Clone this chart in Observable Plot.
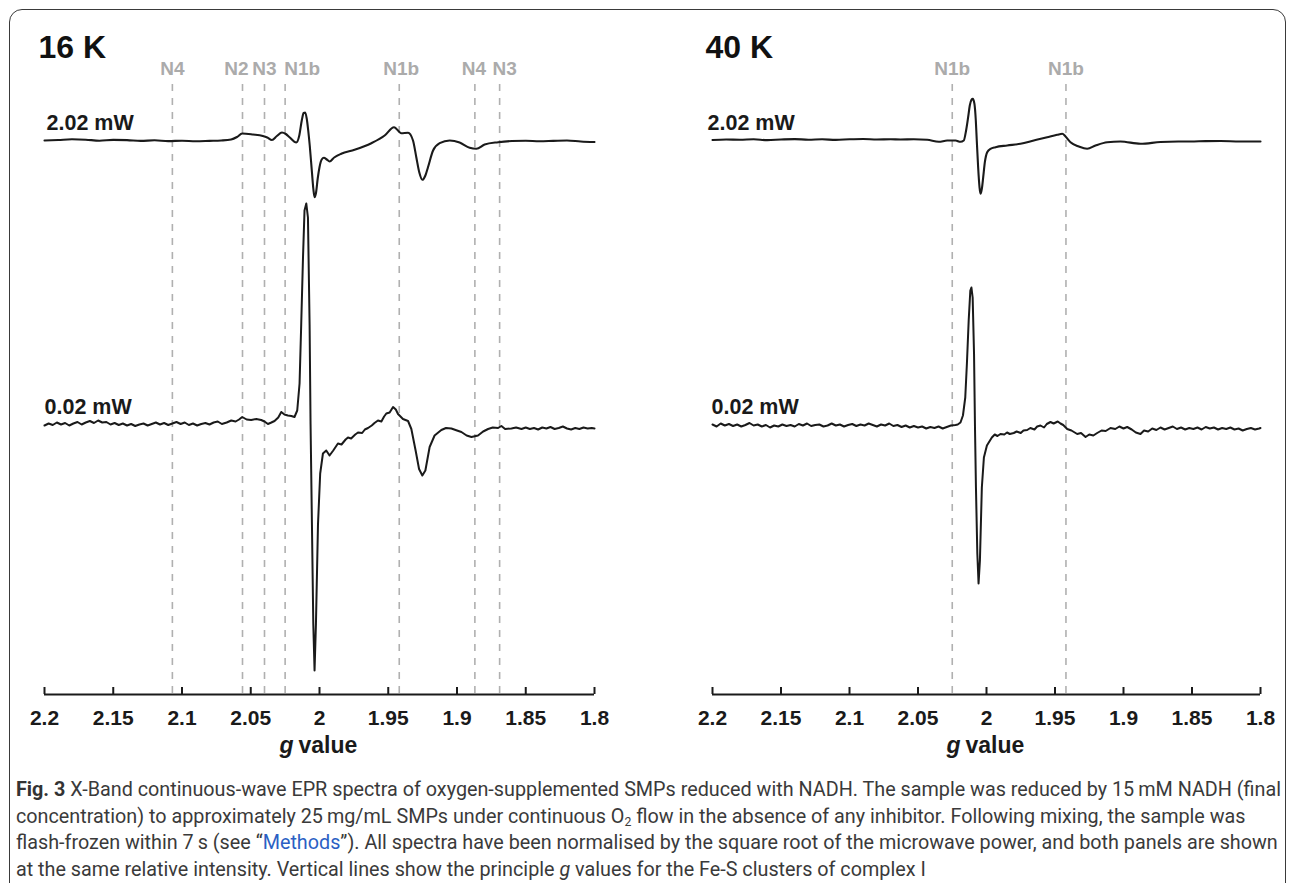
<!DOCTYPE html>
<html>
<head>
<meta charset="utf-8">
<script src="https://cdn.jsdelivr.net/npm/d3@7"></script>
<script src="https://cdn.jsdelivr.net/npm/@observablehq/plot@0.6"></script>
<style>
  html, body { margin: 0; padding: 0; background: #fff; }
  body { width: 1290px; height: 883px; position: relative; overflow: hidden; font-family: "Liberation Sans", Arial, sans-serif; }
  #frame { position: absolute; left: 9px; top: 9px; width: 1277px; height: 910px; border: 1.5px solid #3a3a3a; border-radius: 13px; box-sizing: border-box; }
  .panel { position: absolute; top: 0; }
  #left { left: 0; }
  #right { left: 645px; }
  #caption { position: absolute; left: 16px; top: 777px; color: #3a3a3a;
    font-family: Roboto, "Liberation Sans", sans-serif; font-size: 19.5px; line-height: 26.5px; }
  #caption div { white-space: nowrap; transform-origin: 0 50%; width: max-content; }
  #caption b { color: #333; }
  #caption .link { color: #2b5fc4; }
  #caption sub { font-size: 0.62em; vertical-align: -0.25em; line-height: 0; }
</style>
</head>
<body>
<div id="frame"></div>
<div id="left" class="panel"></div>
<div id="right" class="panel"></div>
<div id="caption">
  <div id="cap1"><b>Fig. 3</b> X-Band continuous-wave EPR spectra of oxygen-supplemented SMPs reduced with NADH. The sample was reduced by 15&#8201;mM NADH (final</div>
  <div>concentration) to approximately 25&#8201;mg/mL SMPs under continuous O<sub>2</sub> flow in the absence of any inhibitor. Following mixing, the sample was</div>
  <div>flash-frozen within 7&#8201;s (see “<span class="link">Methods</span>”). All spectra have been normalised by the square root of the microwave power, and both panels are shown</div>
  <div>at the same relative intensity. Vertical lines show the principle <i>g</i> values for the Fe-S clusters of complex I</div>
</div>
<script>
// ---------------- data ----------------
const tickValues = [2.2, 2.15, 2.1, 2.05, 2, 1.95, 1.9, 1.85, 1.8];
const tickLabels = ["2.2", "2.15", "2.1", "2.05", "2", "1.95", "1.9", "1.85", "1.8"];

const linesNames16 = ["N4", "N2", "N3", "N1b", "N1b", "N4", "N3"];
const linesG16     = [2.107, 2.056, 2.04, 2.025, 1.942, 1.887, 1.869];
const linesNames40 = ["N1b", "N1b"];
const linesG40     = [2.025, 1.942];

const powers = ["2.02 mW", "0.02 mW"];
const powerOffsets = [2.84, 0];   // vertical stacking of the spectra (relative intensity units)

// 16 K, 2.02 mW  [g, intensity]
const k16High = [[2.2,0],[2.19,0.005],[2.18,0.012],[2.17,0.008],[2.16,-0.002],[2.15,0.006],[2.14,0.004],[2.13,-0.004],[2.12,0.002],[2.11,-0.006],[2.10,-0.002],[2.09,-0.008],[2.08,-0.004],[2.0715,0.0],[2.0643,0.01],[2.06,0.035],[2.0562,0.07],[2.0484,0.06],[2.0412,0.045],[2.038,0.03],[2.0346,0.005],[2.031,0.045],[2.0273,0.08],[2.0245,0.065],[2.0218,0.033],[2.0169,-0.02],[2.0147,0.05],[2.0129,0.20],[2.0115,0.275],[2.0104,0.28],[2.0093,0.22],[2.0082,0.10],[2.0071,-0.05],[2.0056,-0.30],[2.0045,-0.48],[2.0036,-0.567],[2.0025,-0.52],[2.0013,-0.38],[2.0,-0.267],[1.9984,-0.19],[1.9968,-0.173],[1.9947,-0.19],[1.9927,-0.21],[1.9893,-0.17],[1.9842,-0.133],[1.9745,-0.093],[1.9623,-0.027],[1.9526,0.05],[1.9458,0.133],[1.9405,0.073],[1.9356,0.077],[1.932,0.0],[1.9296,-0.167],[1.9274,-0.32],[1.9252,-0.393],[1.923,-0.35],[1.9211,-0.267],[1.9174,-0.10],[1.9126,-0.027],[1.9053,0.0],[1.8981,-0.02],[1.8908,-0.073],[1.8859,-0.083],[1.8799,-0.04],[1.8701,-0.017],[1.86,-0.005],[1.85,-0.002],[1.84,-0.008],[1.83,-0.004],[1.82,0.0],[1.81,-0.01],[1.80,-0.015]];

// 16 K, 0.02 mW
const k16Low = [[2.200,-0.01],[2.197,0.01],[2.194,-0.005],[2.191,0.02],[2.188,0.0],[2.185,0.015],[2.182,-0.01],[2.179,0.01],[2.176,0.025],[2.173,0.0],[2.170,0.02],[2.167,0.035],[2.164,0.015],[2.161,0.04],[2.158,0.02],[2.155,0.025],[2.152,0.0],[2.149,0.015],[2.146,-0.005],[2.143,0.01],[2.140,-0.01],[2.137,0.005],[2.134,-0.015],[2.131,0.0],[2.128,0.01],[2.125,-0.01],[2.122,0.005],[2.119,0.02],[2.116,0.0],[2.113,0.015],[2.110,-0.005],[2.107,0.01],[2.104,0.025],[2.101,0.005],[2.098,0.02],[2.095,-0.005],[2.092,0.01],[2.089,-0.01],[2.086,0.005],[2.083,0.015],[2.080,0.0],[2.077,0.02],[2.074,0.03],[2.071,0.005],[2.0675,0.02],[2.0642,0.04],[2.061,0.03],[2.0585,0.05],[2.0562,0.075],[2.053,0.05],[2.0497,0.045],[2.046,0.055],[2.0424,0.045],[2.040,0.03],[2.0375,0.005],[2.035,0.02],[2.0327,0.035],[2.030,0.07],[2.0278,0.125],[2.0255,0.10],[2.023,0.09],[2.0205,0.085],[2.0182,0.075],[2.0162,0.14],[2.0145,0.41],[2.0133,1.0],[2.012,1.67],[2.0109,2.14],[2.0096,2.21],[2.0084,2.07],[2.0072,1.0],[2.0065,0.0],[2.0055,-1.0],[2.0045,-2.0],[2.0036,-2.46],[2.0026,-2.0],[2.0011,-1.0],[1.9995,-0.49],[1.9975,-0.29],[1.9951,-0.26],[1.9927,-0.31],[1.990,-0.26],[1.9866,-0.19],[1.984,-0.20],[1.981,-0.15],[1.9793,-0.13],[1.977,-0.14],[1.974,-0.10],[1.972,-0.08],[1.969,-0.085],[1.967,-0.05],[1.9647,-0.035],[1.962,-0.01],[1.960,0.015],[1.9575,0.04],[1.955,0.03],[1.953,0.08],[1.9514,0.11],[1.949,0.12],[1.9465,0.175],[1.9445,0.15],[1.9429,0.105],[1.9393,0.055],[1.9356,0.035],[1.9332,-0.045],[1.9301,-0.26],[1.9276,-0.445],[1.9252,-0.51],[1.923,-0.46],[1.9199,-0.225],[1.9163,-0.11],[1.9114,-0.055],[1.908,-0.035],[1.9041,-0.04],[1.900,-0.06],[1.8968,-0.075],[1.893,-0.11],[1.8895,-0.125],[1.8847,-0.11],[1.881,-0.07],[1.8774,-0.045],[1.874,-0.03],[1.8701,-0.035],[1.8677,-0.015],[1.865,-0.045],[1.8604,-0.04],[1.857,-0.03],[1.8531,-0.045],[1.850,-0.03],[1.847,-0.045],[1.844,-0.035],[1.841,-0.05],[1.838,-0.03],[1.835,-0.04],[1.832,-0.025],[1.829,-0.045],[1.826,-0.035],[1.823,-0.02],[1.820,-0.04],[1.817,-0.05],[1.814,-0.035],[1.811,-0.045],[1.808,-0.03],[1.805,-0.04],[1.802,-0.035],[1.800,-0.04]];

// 40 K, 2.02 mW
const k40High = [[2.2,0.005],[2.19,0.01],[2.18,0.008],[2.17,0.012],[2.16,0.004],[2.15,0.01],[2.14,0.014],[2.13,0.008],[2.12,0.012],[2.11,0.006],[2.10,0.012],[2.09,0.015],[2.08,0.01],[2.07,0.012],[2.0628,0.01],[2.0531,0.013],[2.0433,0.007],[2.0348,-0.013],[2.0287,0.0],[2.0226,0.0],[2.019,-0.013],[2.0166,0.0],[2.0149,0.10],[2.0134,0.233],[2.0122,0.35],[2.011,0.407],[2.01,0.417],[2.0088,0.367],[2.0078,0.20],[2.0071,0.0],[2.0061,-0.267],[2.0051,-0.467],[2.0044,-0.533],[2.0034,-0.483],[2.0024,-0.367],[2.0012,-0.217],[1.9995,-0.117],[1.9971,-0.083],[1.9934,-0.067],[1.9849,-0.05],[1.9752,-0.033],[1.9655,0.0],[1.9557,0.033],[1.9484,0.057],[1.9447,0.067],[1.9423,0.04],[1.9387,-0.017],[1.9326,-0.06],[1.9265,-0.083],[1.9204,-0.05],[1.9119,-0.017],[1.9022,-0.01],[1.8876,-0.033],[1.873,-0.015],[1.86,-0.01],[1.8511,-0.01],[1.84,-0.006],[1.8292,-0.005],[1.815,-0.01],[1.8,-0.01]];

// 40 K, 0.02 mW
const k40Low = [[2.200,0.0],[2.197,-0.02],[2.194,0.01],[2.191,-0.01],[2.188,0.005],[2.185,-0.015],[2.182,0.0],[2.179,-0.02],[2.176,-0.005],[2.173,0.015],[2.170,-0.01],[2.167,0.0],[2.164,-0.02],[2.161,-0.005],[2.158,-0.03],[2.155,-0.01],[2.152,-0.02],[2.149,0.0],[2.146,-0.015],[2.143,-0.005],[2.140,-0.02],[2.137,0.005],[2.134,-0.01],[2.131,0.01],[2.128,-0.015],[2.125,-0.005],[2.122,0.0],[2.119,-0.02],[2.116,-0.01],[2.113,0.01],[2.110,-0.01],[2.107,0.0],[2.104,-0.02],[2.101,-0.005],[2.098,0.005],[2.095,-0.015],[2.092,0.0],[2.089,-0.01],[2.086,0.01],[2.083,-0.005],[2.080,-0.02],[2.077,0.0],[2.074,-0.01],[2.071,0.01],[2.068,-0.015],[2.065,-0.005],[2.062,-0.025],[2.059,-0.01],[2.056,-0.03],[2.053,-0.015],[2.050,-0.03],[2.047,-0.02],[2.044,-0.04],[2.041,-0.025],[2.038,-0.035],[2.035,-0.02],[2.032,-0.04],[2.029,-0.025],[2.026,-0.01],[2.0226,-0.005],[2.021,0.0],[2.019,0.02],[2.0172,0.09],[2.0155,0.27],[2.0143,0.61],[2.013,1.04],[2.0118,1.34],[2.011,1.37],[2.0101,1.27],[2.0091,0.71],[2.0084,-0.03],[2.0077,-0.63],[2.0067,-1.29],[2.0058,-1.59],[2.0048,-1.36],[2.0034,-0.63],[2.0019,-0.33],[1.9997,-0.21],[1.9961,-0.13],[1.994,-0.10],[1.992,-0.115],[1.9898,-0.095],[1.987,-0.10],[1.985,-0.08],[1.983,-0.095],[1.9801,-0.085],[1.978,-0.07],[1.975,-0.085],[1.973,-0.06],[1.9703,-0.055],[1.968,-0.035],[1.965,-0.05],[1.963,-0.02],[1.9606,-0.01],[1.958,-0.03],[1.956,0.005],[1.9533,0.025],[1.951,0.01],[1.948,0.03],[1.946,0.01],[1.944,-0.005],[1.9411,-0.045],[1.938,-0.06],[1.9338,-0.095],[1.931,-0.085],[1.9277,-0.125],[1.925,-0.10],[1.922,-0.11],[1.9192,-0.085],[1.916,-0.06],[1.913,-0.065],[1.9095,-0.035],[1.906,-0.045],[1.903,-0.02],[1.900,-0.04],[1.8973,-0.025],[1.894,-0.05],[1.891,-0.08],[1.8876,-0.095],[1.885,-0.06],[1.882,-0.07],[1.879,-0.04],[1.876,-0.055],[1.873,-0.03],[1.870,-0.05],[1.867,-0.035],[1.864,-0.02],[1.861,-0.045],[1.858,-0.03],[1.855,-0.05],[1.852,-0.035],[1.849,-0.045],[1.846,-0.03],[1.843,-0.05],[1.840,-0.025],[1.837,-0.04],[1.834,-0.03],[1.831,-0.05],[1.828,-0.035],[1.825,-0.045],[1.822,-0.03],[1.819,-0.05],[1.816,-0.04],[1.813,-0.06],[1.810,-0.045],[1.807,-0.035],[1.804,-0.05],[1.801,-0.04],[1.800,-0.035]];

// ---------------- drawing ----------------
const FONT = '"Liberation Sans", Arial, Helvetica, sans-serif';
const INK = "#1a1a1a";
const Y_AXIS = -2.70, Y_TOP = 3.40;

function panel({title, names, gs, nudges, spectra, ml, mr, titleDx, powerDx}) {
  const lines = names.map((name, i) => ({name, g: gs[i]}));
  const hi = spectra[0].map(([g, v]) => ({g, y: v + powerOffsets[0]}));
  const lo = spectra[1].map(([g, v]) => ({g, y: v + powerOffsets[1]}));
  const labels = powers.map((p, k) => ({power: p, y: powerOffsets[k]}));
  return Plot.plot({
    width: 645, height: 770,
    marginLeft: ml, marginRight: mr, marginTop: 84, marginBottom: 76,
    x: {domain: [2.2, 1.8], axis: null},
    y: {domain: [Y_AXIS, Y_TOP], axis: null},
    style: {fontFamily: FONT, background: "transparent", overflow: "visible"},
    marks: [
      Plot.ruleX(lines, {x: "g", stroke: "#b0b0b0", strokeWidth: 1.6, strokeDasharray: "7,7"}),
      ...lines.map((d, i) => Plot.text([d], {x: "g", text: "name", frameAnchor: "top", lineAnchor: "middle",
        dy: -16, dx: nudges[i], fill: "#ababab", fontSize: 19, fontWeight: "bold"})),
      Plot.line(hi, {x: "g", y: "y", stroke: INK, strokeWidth: 2.1, curve: "monotone-x"}),
      Plot.line(lo, {x: "g", y: "y", stroke: INK, strokeWidth: 2, curve: "linear", strokeLinejoin: "round"}),
      ...labels.map((d, k) => Plot.text([d], {x: () => 2.2, y: "y", text: "power", textAnchor: "start",
        lineAnchor: "middle", dx: powerDx[k], dy: -17, fill: INK, fontSize: 21.5, fontWeight: "bold"})),
      Plot.text([title], {text: d => d, frameAnchor: "top-left", textAnchor: "start", lineAnchor: "middle",
        dx: titleDx, dy: -37, fill: "#111", fontSize: 32, fontWeight: "bold"}),
      // x axis: baseline, inward ticks, labels
      Plot.ruleY([Y_AXIS], {x1: 2.2, x2: 1.8, stroke: INK, strokeWidth: 2.2}),
      Plot.ruleX(tickValues, {x: d => d, y1: Y_AXIS, y2: Y_AXIS + 0.07, stroke: INK, strokeWidth: 2}),
      Plot.text(tickValues, {x: d => d, text: (d, i) => tickLabels[i], frameAnchor: "bottom", lineAnchor: "middle",
        dy: 24, fill: INK, fontSize: 21, fontWeight: "bold"}),
      Plot.text(["g"], {x: () => 2.0, text: d => d, frameAnchor: "bottom", lineAnchor: "middle", dy: 51, dx: -26,
        textAnchor: "end", fill: INK, fontSize: 23, fontWeight: "bold", fontStyle: "italic"}),
      Plot.text(["value"], {x: () => 2.0, text: d => d, frameAnchor: "bottom", lineAnchor: "middle", dy: 51, dx: -21,
        textAnchor: "start", fill: INK, fontSize: 23, fontWeight: "bold"})
    ]
  });
}

document.getElementById("left").append(panel({
  title: "16 K", names: linesNames16, gs: linesG16, nudges: [0, -6, 0, 17, 2, -1, 5],
  spectra: [k16High, k16Low], ml: 44, mr: 51, titleDx: -6, powerDx: [2, 0]
}));
document.getElementById("right").append(panel({
  title: "40 K", names: linesNames40, gs: linesG40, nudges: [0, 0],
  spectra: [k40High, k40Low], ml: 67, mr: 30, titleDx: -7, powerDx: [-5, -1]
}));

// compress caption horizontally (condensed face) so line 1 spans its width in the reference
(function fitCaption() {
  const rows = document.querySelectorAll("#caption div");
  const w = document.getElementById("cap1").getBoundingClientRect().width;
  const k = 1265 / w;
  rows.forEach(r => { r.style.transform = `scaleX(${k})`; });
})();
</script>
</body>
</html>
